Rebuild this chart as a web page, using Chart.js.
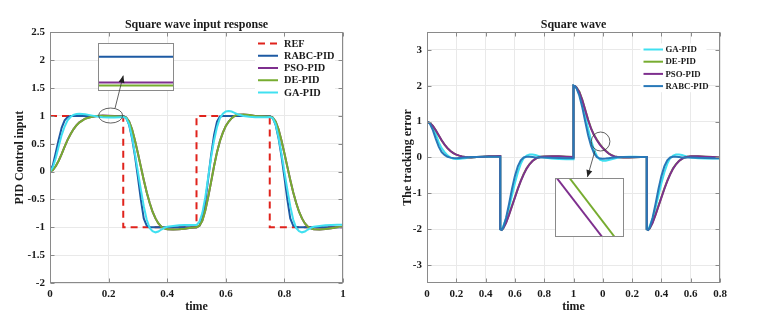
<!DOCTYPE html>
<html>
<head>
<meta charset="utf-8">
<script src="https://cdn.jsdelivr.net/npm/chart.js@4.4.1/dist/chart.umd.min.js"></script>
<style>
  body { margin: 0; background: #fff; width: 758px; height: 325px; overflow: hidden; position: relative; }
  canvas { position: absolute; }
  #left { left: 0; top: 0; }
  #right { left: 380px; top: 0; }
  #insetL { left: 98px; top: 43px; }
  #insetR { left: 555px; top: 178px; }
  #marks { left: 0; top: 0; pointer-events: none; }
</style>
</head>
<body>
<canvas id="left" width="380" height="325"></canvas>
<canvas id="right" width="378" height="325"></canvas>
<canvas id="insetL" width="76" height="48"></canvas>
<canvas id="insetR" width="69" height="59"></canvas>
<canvas id="marks" width="758" height="325"></canvas>
<script>
// ---- left: square wave input response ----
const refT = [0, 0.25, 0.25, 0.5, 0.5, 0.75, 0.75, 1, 1];
const refY = [1, 1, -1, -1, 1, 1, -1, -1, 1];

const leftT = [0, 0.01, 0.02, 0.03, 0.04, 0.05, 0.06, 0.07, 0.08, 0.09, 0.1,
  0.12, 0.14, 0.16, 0.18, 0.2, 0.22, 0.24,
  0.25, 0.26, 0.27, 0.28, 0.29, 0.3, 0.31, 0.32, 0.33, 0.34, 0.35, 0.36, 0.37, 0.38, 0.39, 0.4,
  0.42, 0.44, 0.46, 0.48, 0.5,
  0.51, 0.52, 0.53, 0.54, 0.55, 0.56, 0.57, 0.58, 0.59, 0.6, 0.61, 0.62, 0.63, 0.64,
  0.66, 0.68, 0.7, 0.72, 0.74,
  0.75, 0.76, 0.77, 0.78, 0.79, 0.8, 0.81, 0.82, 0.83, 0.84, 0.85, 0.86, 0.87, 0.88, 0.89, 0.9,
  0.92, 0.94, 0.96, 0.98, 1.0];

const rabcL = [0, 0.12, 0.35, 0.58, 0.79, 0.92, 0.98, 1, 1, 1, 1,
  1, 1, 1, 1, 1, 1, 1,
  1, 0.97, 0.84, 0.6, 0.28, -0.1, -0.5, -0.84, -0.97, -1, -1, -1, -1, -1, -1, -1,
  -1, -1, -1, -1, -1,
  -0.97, -0.84, -0.55, -0.12, 0.3, 0.66, 0.9, 0.99, 1, 1, 1, 1, 1, 1,
  1, 1, 1, 1, 1,
  1, 0.97, 0.84, 0.6, 0.28, -0.1, -0.5, -0.84, -0.97, -1, -1, -1, -1, -1, -1, -1,
  -1, -1, -1, -1, -1];

const psoL = [0, 0.03, 0.1, 0.2, 0.32, 0.45, 0.57, 0.67, 0.76, 0.83, 0.885,
  0.952, 0.982, 1.0, 1.006, 1.002, 0.997, 0.992,
  0.992, 0.972, 0.9, 0.76, 0.56, 0.33, 0.09, -0.15, -0.37, -0.56, -0.72, -0.84, -0.93, -0.99, -1.02, -1.035,
  -1.04, -1.035, -1.025, -1.01, -1.0,
  -0.97, -0.88, -0.7, -0.45, -0.18, 0.1, 0.35, 0.55, 0.7, 0.82, 0.9, 0.96, 1.0, 1.02,
  1.025, 1.015, 1.0, 0.995, 0.99,
  0.99, 0.97, 0.9, 0.76, 0.56, 0.33, 0.09, -0.15, -0.37, -0.56, -0.72, -0.84, -0.93, -0.99, -1.02, -1.035,
  -1.04, -1.03, -1.015, -1.0, -0.99];

const deL = [0, 0.03, 0.1, 0.2, 0.32, 0.45, 0.57, 0.67, 0.76, 0.83, 0.88,
  0.95, 0.98, 1.0, 1.005, 1.0, 0.995, 0.99,
  0.99, 0.97, 0.9, 0.76, 0.56, 0.33, 0.09, -0.15, -0.37, -0.56, -0.72, -0.84, -0.93, -0.99, -1.02, -1.035,
  -1.04, -1.035, -1.025, -1.01, -1.0,
  -0.97, -0.88, -0.7, -0.45, -0.18, 0.1, 0.35, 0.55, 0.7, 0.82, 0.9, 0.96, 1.0, 1.02,
  1.025, 1.015, 1.0, 0.995, 0.99,
  0.99, 0.97, 0.9, 0.76, 0.56, 0.33, 0.09, -0.15, -0.37, -0.56, -0.72, -0.84, -0.93, -0.99, -1.02, -1.035,
  -1.04, -1.03, -1.015, -1.0, -0.99];

const gaL = [0, 0.08, 0.25, 0.46, 0.66, 0.81, 0.92, 0.98, 1.02, 1.035, 1.04,
  1.03, 1.01, 0.99, 0.978, 0.972, 0.973, 0.978,
  0.98, 0.96, 0.85, 0.62, 0.32, 0, -0.32, -0.62, -0.86, -1.01, -1.07, -1.09, -1.075, -1.04, -1.01, -0.99,
  -0.975, -0.965, -0.96, -0.96, -0.96,
  -0.9, -0.74, -0.46, -0.1, 0.26, 0.56, 0.8, 0.96, 1.04, 1.08, 1.09, 1.08, 1.055, 1.03,
  1.0, 0.985, 0.978, 0.975, 0.978,
  0.98, 0.96, 0.85, 0.62, 0.32, 0, -0.32, -0.62, -0.86, -1.01, -1.07, -1.09, -1.075, -1.04, -1.01, -0.99,
  -0.975, -0.965, -0.96, -0.955, -0.955];

// ---- right: tracking error ----
const rightT = [0, 0.02, 0.04, 0.06, 0.08, 0.1, 0.12, 0.14, 0.16, 0.18, 0.2, 0.22, 0.24, 0.26, 0.28, 0.3,
  0.34, 0.38, 0.42, 0.46, 0.5,
  0.5, 0.51, 0.52, 0.54, 0.56, 0.58, 0.6, 0.62, 0.64, 0.66, 0.68, 0.7, 0.72, 0.74, 0.76, 0.78, 0.8,
  0.85, 0.9, 0.95, 1.0,
  1.0, 1.01, 1.02, 1.04, 1.06, 1.08, 1.1, 1.12, 1.14, 1.16, 1.18, 1.2, 1.22, 1.24, 1.26, 1.28, 1.3,
  1.34, 1.38, 1.42, 1.46, 1.5,
  1.5, 1.51, 1.52, 1.54, 1.56, 1.58, 1.6, 1.62, 1.64, 1.66, 1.68, 1.7, 1.72, 1.74, 1.76, 1.78, 1.8,
  1.85, 1.9, 1.95, 2.0,
  2.0];

const gaR = [1, 0.96, 0.84, 0.65, 0.42, 0.26, 0.15, 0.06, 0, -0.035, -0.045, -0.04, -0.03, -0.02, -0.01, 0,
  0.01, 0.015, 0.02, 0.02, 0.02,
  -2, -2, -1.92, -1.7, -1.4, -1.06, -0.72, -0.42, -0.18, -0.02, 0.05, 0.08, 0.085, 0.07, 0.045, 0.02, 0,
  -0.03, -0.045, -0.05, -0.05,
  2, 1.98, 1.94, 1.78, 1.5, 1.15, 0.8, 0.48, 0.22, 0.04, -0.06, -0.09, -0.09, -0.07, -0.05, -0.03, -0.01,
  0.01, 0.02, 0.02, 0.015, 0.01,
  -2, -2, -1.92, -1.7, -1.4, -1.06, -0.72, -0.42, -0.18, -0.02, 0.05, 0.08, 0.085, 0.07, 0.045, 0.02, 0,
  -0.02, -0.03, -0.03, -0.03,
  2];

const deR = [1, 0.96, 0.88, 0.755, 0.615, 0.475, 0.355, 0.255, 0.178, 0.12, 0.08, 0.05, 0.03, 0.015, 0.005, 0,
  0.01, 0.02, 0.03, 0.035, 0.04,
  -2, -2.02, -1.98, -1.81, -1.59, -1.35, -1.11, -0.87, -0.65, -0.46, -0.3, -0.185, -0.1, -0.04, 0, 0.02, 0.03,
  0.035, 0.03, 0.02, 0.01,
  2, 1.99, 1.95, 1.83, 1.61, 1.33, 1.05, 0.81, 0.63, 0.49, 0.37, 0.27, 0.185, 0.115, 0.065, 0.03, 0.01,
  0, 0, 0.005, 0.01, 0.01,
  -2, -2.02, -1.98, -1.81, -1.59, -1.35, -1.11, -0.87, -0.65, -0.46, -0.3, -0.185, -0.1, -0.04, 0, 0.02, 0.03,
  0.03, 0.02, 0.01, 0,
  2];

const psoR = [1, 0.96, 0.88, 0.76, 0.62, 0.48, 0.36, 0.26, 0.18, 0.12, 0.08, 0.05, 0.03, 0.015, 0.005, 0,
  0.01, 0.02, 0.03, 0.035, 0.04,
  -2, -2.02, -1.98, -1.82, -1.6, -1.36, -1.12, -0.88, -0.66, -0.47, -0.31, -0.19, -0.1, -0.04, 0, 0.02, 0.03,
  0.035, 0.03, 0.02, 0.01,
  2, 1.99, 1.95, 1.82, 1.6, 1.32, 1.04, 0.8, 0.62, 0.48, 0.36, 0.26, 0.18, 0.11, 0.06, 0.03, 0.01,
  0, 0, 0.005, 0.01, 0.01,
  -2, -2.02, -1.98, -1.82, -1.6, -1.36, -1.12, -0.88, -0.66, -0.47, -0.31, -0.19, -0.1, -0.04, 0, 0.02, 0.03,
  0.03, 0.02, 0.01, 0,
  2];

const rabcR = [1, 0.94, 0.76, 0.52, 0.3, 0.15, 0.07, 0.02, -0.005, -0.015, -0.02, -0.015, -0.01, 0, 0.005, 0.01,
  0.015, 0.02, 0.02, 0.02, 0.02,
  -2, -2.02, -1.96, -1.68, -1.3, -0.88, -0.52, -0.25, -0.08, 0, 0.02, 0.02, 0.01, 0, 0, 0, 0,
  -0.01, -0.015, -0.02, -0.02,
  2, 1.98, 1.93, 1.72, 1.4, 1.0, 0.62, 0.32, 0.12, 0.01, -0.03, -0.035, -0.03, -0.02, -0.01, 0, 0.005,
  0.01, 0.01, 0.01, 0.01, 0.01,
  -2, -2.02, -1.96, -1.68, -1.3, -0.88, -0.52, -0.25, -0.08, 0, 0.02, 0.02, 0.01, 0, 0, 0, 0,
  -0.01, -0.015, -0.02, -0.02,
  2];

const rightXTicks = [0, 0.2, 0.4, 0.6, 0.8, 1, 1.2, 1.4, 1.6, 1.8, 2];
const rightXLabels = ['0', '0.2', '0.4', '0.6', '0.8', '1', '0', '0.2', '0.4', '0.6', '0.8'];
const rightYTicks = [-3, -2, -1, 0, 1, 2, 3];

// zoomed insets
const insetLT = [0.18, 0.22];
const insetLRabc = [1.0, 1.0];
const insetLPso = [0.985, 0.985];
const insetLDe = [0.9832, 0.9832];
const insetRPsoT = [1.1705, 1.1837];
const insetRPsoY = [0.55, 0.40];
const insetRDeT = [1.1742, 1.1873];
const insetRDeY = [0.55, 0.40];

Chart.defaults.font.family = "'Liberation Serif', 'Times New Roman', serif";
Chart.defaults.font.size = 11;
Chart.defaults.font.weight = 'bold';
Chart.defaults.color = '#1a1a1a';
Chart.defaults.animation = false;
Chart.defaults.events = [];
Chart.defaults.elements.point.radius = 0;
Chart.defaults.plugins.legend.display = false;
Chart.defaults.plugins.tooltip.enabled = false;

const pts = (t, y) => t.map((x, i) => ({ x, y: y[i] }));
const plain = v => String(Math.round(v * 100) / 100);

// matlab style axes box with inner ticks
const matlabBox = {
  id: 'matlabBox',
  afterDraw(chart) {
    const { ctx, chartArea: a, scales: { x, y } } = chart;
    const l = Math.round(a.left) + 0.5, r = Math.round(a.right) - 0.5;
    const t = Math.round(a.top) + 0.5, b = Math.round(a.bottom) - 0.5;
    ctx.save();
    ctx.strokeStyle = '#8a8a8a';
    ctx.lineWidth = 1;
    ctx.strokeRect(l, t, r - l, b - t);
    ctx.beginPath();
    x.ticks.forEach(tk => {
      const p = Math.round(x.getPixelForValue(tk.value)) + 0.5;
      ctx.moveTo(p, b); ctx.lineTo(p, b - 4);
      ctx.moveTo(p, t); ctx.lineTo(p, t + 4);
    });
    y.ticks.forEach(tk => {
      const p = Math.round(y.getPixelForValue(tk.value)) + 0.5;
      ctx.moveTo(l, p); ctx.lineTo(l + 4, p);
      ctx.moveTo(r, p); ctx.lineTo(r - 4, p);
    });
    ctx.stroke();
    ctx.restore();
  }
};

// legend drawn inside the axes
const innerLegend = {
  id: 'innerLegend',
  afterDraw(chart, args, o) {
    const ctx = chart.ctx;
    const sets = chart.data.datasets;
    ctx.save();
    ctx.fillStyle = '#fff';
    ctx.fillRect(o.x - 3, o.y - o.gap / 2, o.boxW, sets.length * o.gap);
    ctx.font = 'bold ' + o.size + "px 'Liberation Serif', 'Times New Roman', serif";
    ctx.textBaseline = 'middle';
    sets.forEach((d, i) => {
      const yy = o.y + i * o.gap;
      ctx.strokeStyle = d.borderColor;
      ctx.lineWidth = d.borderWidth;
      ctx.setLineDash(d.borderDash || []);
      ctx.beginPath();
      ctx.moveTo(o.x, yy);
      ctx.lineTo(o.x + o.len, yy);
      ctx.stroke();
      ctx.setLineDash([]);
      ctx.fillStyle = '#1a1a1a';
      ctx.fillText(d.label, o.x + o.len + o.textGap, yy + 0.5);
    });
    ctx.restore();
  }
};

function xAxis(extra) {
  return Object.assign({
    type: 'linear',
    grid: { color: '#e9e9e9', drawTicks: false },
    border: { display: false },
    title: { display: true, text: 'time', font: { size: 12 }, padding: { top: 0, bottom: 11 } },
    afterFit: s => { s.height = 42; }
  }, extra);
}

function yAxis(text, width, padTop, extra) {
  return Object.assign({
    grid: { color: '#e9e9e9', drawTicks: false },
    border: { display: false },
    title: { display: true, text, font: { size: 12 }, padding: { top: padTop, bottom: 0 } },
    afterFit: s => { s.width = width; }
  }, extra);
}

const chartL = new Chart(document.getElementById('left'), {
  type: 'line',
  data: {
    datasets: [
      { label: 'REF', data: pts(refT, refY), borderColor: '#e0231c', borderWidth: 2, borderDash: [7, 5], order: 5 },
      { label: 'RABC-PID', data: pts(leftT, rabcL), borderColor: '#1d5aa3', borderWidth: 2, order: 4 },
      { label: 'PSO-PID', data: pts(leftT, psoL), borderColor: '#7e2f8e', borderWidth: 2, order: 3 },
      { label: 'DE-PID', data: pts(leftT, deL), borderColor: '#77ac30', borderWidth: 2, order: 2 },
      { label: 'GA-PID', data: pts(leftT, gaL), borderColor: '#40e0f0', borderWidth: 2, order: 1 }
    ]
  },
  options: {
    responsive: false,
    devicePixelRatio: 1,
    layout: { padding: { left: 0, right: 37, top: 0, bottom: 0 } },
    scales: {
      x: xAxis({ min: 0, max: 1, ticks: { stepSize: 0.2, padding: 5, callback: plain } }),
      y: yAxis('PID Control input', 50, 13, { min: -2, max: 2.5, ticks: { stepSize: 0.5, padding: 5, callback: plain } })
    },
    plugins: {
      title: { display: true, text: 'Square wave input response', fullSize: false,
        font: { size: 12, weight: 'bold' }, padding: { top: 18, bottom: 0 }, color: '#1a1a1a' },
      innerLegend: { x: 258, y: 43.5, gap: 12.25, len: 20, textGap: 6, size: 10.3, boxW: 80 }
    }
  },
  plugins: [matlabBox, innerLegend]
});

const chartR = new Chart(document.getElementById('right'), {
  type: 'line',
  data: {
    datasets: [
      { label: 'GA-PID', data: pts(rightT, gaR), borderColor: '#40e0f0', borderWidth: 2, order: 4 },
      { label: 'DE-PID', data: pts(rightT, deR), borderColor: '#77ac30', borderWidth: 2, order: 3 },
      { label: 'PSO-PID', data: pts(rightT, psoR), borderColor: '#7e2f8e', borderWidth: 2, order: 2 },
      { label: 'RABC-PID', data: pts(rightT, rabcR), borderColor: '#2878b8', borderWidth: 2, order: 1 }
    ]
  },
  options: {
    responsive: false,
    devicePixelRatio: 1,
    layout: { padding: { left: 0, right: 38, top: 0, bottom: 0 } },
    scales: {
      x: xAxis({ min: 0, max: 2,
        afterBuildTicks: s => { s.ticks = rightXTicks.map(v => ({ value: v })); },
        ticks: { padding: 5, callback: (v, i) => rightXLabels[i] } }),
      y: yAxis('The tracking error', 47, 21, { min: -3.5, max: 3.5,
        afterBuildTicks: s => { s.ticks = rightYTicks.map(v => ({ value: v })); },
        ticks: { padding: 5, callback: plain } })
    },
    plugins: {
      title: { display: true, text: 'Square wave', fullSize: false,
        font: { size: 12, weight: 'bold' }, padding: { top: 17.5, bottom: 0 }, color: '#1a1a1a' },
      innerLegend: { x: 263.5, y: 49.5, gap: 12.2, len: 19.5, textGap: 2.5, size: 8.8, boxW: 66 }
    }
  },
  plugins: [matlabBox, innerLegend]
});

// inset frames
const insetFrame = {
  id: 'insetFrame',
  beforeDraw(chart) {
    chart.ctx.fillStyle = '#fff';
    chart.ctx.fillRect(0, 0, chart.width, chart.height);
  },
  afterDraw(chart) {
    const ctx = chart.ctx;
    ctx.save();
    ctx.strokeStyle = '#8a8a8a';
    ctx.lineWidth = 1;
    ctx.strokeRect(0.5, 0.5, chart.width - 1, chart.height - 1);
    ctx.restore();
  }
};

function insetChart(id, sets, xr, yr) {
  return new Chart(document.getElementById(id), {
    type: 'line',
    data: { datasets: sets },
    options: {
      responsive: false,
      devicePixelRatio: 1,
      layout: { padding: 0 },
      scales: {
        x: { type: 'linear', display: false, min: xr[0], max: xr[1] },
        y: { display: false, min: yr[0], max: yr[1] }
      }
    },
    plugins: [insetFrame]
  });
}

insetChart('insetL', [
  { data: pts(insetLT, insetLRabc), borderColor: '#1d5aa3', borderWidth: 2 },
  { data: pts(insetLT, insetLPso), borderColor: '#7e2f8e', borderWidth: 2 },
  { data: pts(insetLT, insetLDe), borderColor: '#77ac30', borderWidth: 2 }
], [0.18, 0.22], [0.98, 1.008]);

insetChart('insetR', [
  { data: pts(insetRPsoT, insetRPsoY), borderColor: '#7e2f8e', borderWidth: 2 },
  { data: pts(insetRDeT, insetRDeY), borderColor: '#77ac30', borderWidth: 2 }
], [1.17, 1.19], [0.40, 0.55]);

// zoom ellipses and arrows, placed in data coordinates of the main axes
const mctx = document.getElementById('marks').getContext('2d');
function drawMarks(chart, dx, o) {
  const { x, y } = chart.scales;
  const P = (tv, vv) => [dx + x.getPixelForValue(tv), y.getPixelForValue(vv)];
  const [cx, cy] = P(o.cx, o.cy);
  const [x1, y1] = P(o.from[0], o.from[1]);
  const [x2, y2] = P(o.to[0], o.to[1]);
  mctx.save();
  mctx.strokeStyle = '#3a3a3a';
  mctx.fillStyle = '#222';
  mctx.lineWidth = 0.8;
  mctx.beginPath();
  mctx.ellipse(cx, cy, o.rx, o.ry, 0, 0, 2 * Math.PI);
  mctx.stroke();
  mctx.beginPath();
  mctx.moveTo(x1, y1);
  mctx.lineTo(x2, y2);
  mctx.stroke();
  const a = Math.atan2(y2 - y1, x2 - x1);
  mctx.beginPath();
  mctx.moveTo(x2, y2);
  mctx.lineTo(x2 - 7 * Math.cos(a) + 3 * Math.sin(a), y2 - 7 * Math.sin(a) - 3 * Math.cos(a));
  mctx.lineTo(x2 - 7 * Math.cos(a) - 3 * Math.sin(a), y2 - 7 * Math.sin(a) + 3 * Math.cos(a));
  mctx.closePath();
  mctx.fill();
  mctx.restore();
}

drawMarks(chartL, 0, { cx: 0.207, cy: 1.007, rx: 12, ry: 7.5, from: [0.222, 1.138], to: [0.25, 1.724] });
drawMarks(chartR, 380, { cx: 1.185, cy: 0.444, rx: 9.3, ry: 9.5, from: [1.147, 0.194], to: [1.095, -0.547] });
</script>
</body>
</html>
